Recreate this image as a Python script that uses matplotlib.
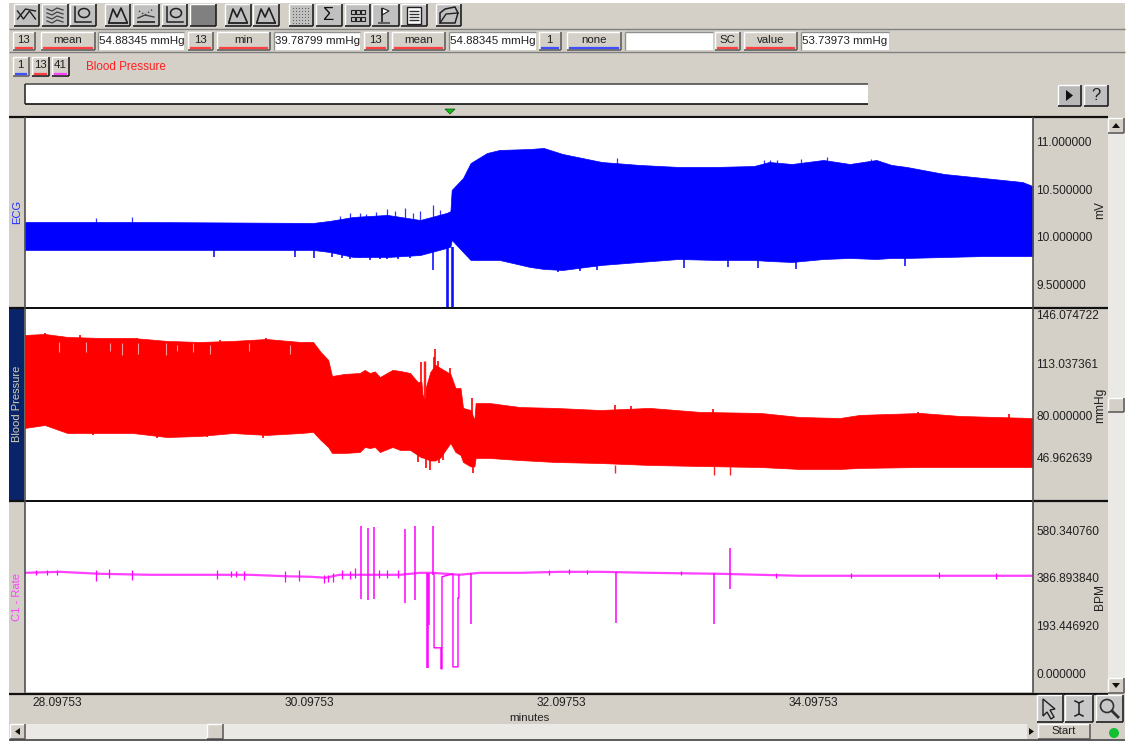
import matplotlib
matplotlib.use("Agg")
import matplotlib.pyplot as plt
from matplotlib.patches import Rectangle, Polygon, Circle, Ellipse
from matplotlib.transforms import ScaledTranslation

plt.rcParams['font.family'] = ['Liberation Sans', 'DejaVu Sans']

# ECG envelope
ecg_t = [27.84, 28.76, 30.13, 30.26, 30.45, 30.72, 30.98, 31.19, 31.22, 31.23, 31.32, 31.38, 31.51, 31.61,
         31.85, 31.96, 32.11, 32.42, 32.72, 33.03, 33.33, 33.63, 33.75, 33.93, 34.18, 34.39, 34.60, 34.72,
         34.84, 35.14, 35.45, 35.76, 35.84]
ecg_hi = [10.157, 10.157, 10.147, 10.168, 10.21, 10.231, 10.178, 10.252, 10.27, 10.493, 10.618, 10.775, 10.88, 10.912,
          10.922, 10.933, 10.87, 10.786, 10.755, 10.734, 10.734, 10.744, 10.786, 10.765, 10.807, 10.765, 10.807, 10.755,
          10.734, 10.66, 10.618, 10.576, 10.534]
ecg_lo = [9.864, 9.864, 9.864, 9.843, 9.79, 9.79, 9.811, 9.885, 9.9, 9.969, 9.843, 9.759, 9.759, 9.759,
          9.686, 9.665, 9.654, 9.707, 9.738, 9.769, 9.759, 9.759, 9.748, 9.738, 9.769, 9.78, 9.769, 9.78,
          9.78, 9.79, 9.8, 9.8, 9.8]
ecg_up_t = [28.41, 28.69, 30.42, 30.55, 30.72, 30.86, 30.98, 31.08, 31.14,
            30.34, 30.50, 30.63, 30.78, 30.92, 32.54, 33.71, 33.76, 33.81, 34.00, 34.21, 34.56]
ecg_up_v = [10.2, 10.21, 10.25, 10.24, 10.29, 10.3, 10.27, 10.33, 10.28,
            10.22, 10.25, 10.26, 10.27, 10.25, 10.828, 10.807, 10.807, 10.807, 10.817, 10.838, 10.817]
ecg_dn_t = [29.34, 29.99, 30.14, 30.36, 30.72, 30.80, 30.90, 31.08, 31.19, 31.20, 31.23, 31.24,
            30.28, 30.42, 30.50, 30.58, 30.66, 32.07, 32.25, 32.38, 33.07, 33.42, 33.66, 33.96, 34.83]
ecg_dn_v = [9.79, 9.79, 9.78, 9.78, 9.77, 9.77, 9.78, 9.65, 9.27, 9.27, 9.27, 9.27,
            9.79, 9.77, 9.78, 9.76, 9.77, 9.633, 9.644, 9.654, 9.675, 9.686, 9.675, 9.665, 9.696]

# blood pressure envelope
bp_t = [27.84, 28.00, 28.18, 28.44, 28.70, 28.97, 29.23, 29.49, 29.76, 30.03, 30.13, 30.19, 30.25, 30.28,
        30.38, 30.50, 30.54, 30.58, 30.62, 30.66, 30.76, 30.82, 30.90, 30.96, 30.99, 31.00, 31.06, 31.10,
        31.14, 31.22, 31.26, 31.30, 31.32, 31.38, 31.41, 31.42, 31.53, 31.77, 32.05, 32.41, 32.80, 33.20,
        33.68, 33.99, 34.31, 34.47, 34.95, 35.26, 35.84]
bp_hi = [132.5, 133.2, 131.2, 130.5, 130.5, 128.5, 127.8, 128.5, 129.8, 127.8, 127.8, 121.1, 115.7, 104.9,
         106.3, 106.9, 109.0, 106.9, 108.0, 104.2, 109.0, 108.3, 106.9, 100.9, 100.9, 90.1, 107.6, 112.4,
         110.3, 106.3, 96.8, 96.8, 83.4, 82.0, 75.3, 86.7, 86.7, 84.0, 83.4, 82.0, 83.4, 80.7,
         80.0, 77.3, 76.6, 78.7, 80.0, 78.0, 76.6]
bp_lo = [69.9, 71.9, 66.5, 66.5, 66.5, 63.8, 64.5, 66.5, 65.2, 66.5, 67.2, 61.8, 57.1, 53.1,
         53.1, 53.7, 57.1, 56.4, 57.1, 53.7, 57.1, 55.1, 55.1, 51.7, 50.0, 50.0, 48.0, 48.0,
         50.0, 59.8, 53.7, 51.7, 47.0, 44.0, 44.0, 49.7, 49.7, 48.3, 47.0, 46.3, 45.0, 44.3,
         43.6, 42.3, 42.3, 43.0, 43.6, 43.6, 43.6]
bp_notch_t = [28.11, 28.33, 28.61, 28.74, 28.96, 29.18, 29.31, 29.95, 28.52, 29.05, 29.62]
bp_notch_hi = [128, 128, 127, 127, 127, 127, 126, 126, 127, 126, 127]
bp_notch_lo = [121, 121, 119, 120, 119, 121, 120, 120, 122, 122, 122]
bp_dip_t = [32.53, 33.31, 33.44, 31.01, 31.02]
bp_dip_hi = [45, 44, 44, 115, 115]
bp_dip_lo = [39.6, 38.2, 38.2, 90, 90]
bp_top_t = [28.00, 28.28, 28.73, 29.39, 29.76, 31.10, 30.99, 31.22, 31.39, 32.53, 32.65, 33.30, 34.93, 35.65, 31.09, 31.12]
bp_top_v = [133.9, 132.5, 130.5, 129.2, 130.5, 123.1, 114.3, 110.3, 90.0, 85.4, 84.7, 82.7, 80.7, 79.3, 118.0, 115.0]
bp_bot_t = [28.38, 28.89, 29.29, 29.73, 31.06, 31.13, 31.40, 30.96, 31.03, 31.16]
bp_bot_v = [65.2, 63.2, 63.8, 63.2, 41.6, 46.3, 39.6, 47.0, 43.0, 48.0]

# rate trace
rate_t = [27.84, 28.12, 28.44, 28.84, 29.23, 29.63, 29.92, 30.11, 30.23, 30.34, 30.50, 30.82, 30.98, 31.08,
          31.29, 31.45, 31.77, 32.09, 32.41, 32.80, 33.36, 33.99, 34.79, 35.84]
rate_v = [407, 411, 403, 399, 399, 399, 393, 391, 387, 399, 399, 399, 407, 407,
          399, 407, 407, 411, 411, 407, 403, 395, 395, 395]
spike_t = [30.510, 30.566, 30.614, 30.859, 30.939, 31.050, 31.383, 32.534, 33.312, 33.439, 31.082, 31.034, 31.042]
spike_hi = [598, 590, 594, 586, 598, 403, 407, 411, 407, 508, 598, 407, 407]
spike_lo = [302, 298, 302, 285, 298, 196, 200, 204, 200, 342, 399, 22, 22]
drop_t = [31.090, 31.090, 31.145, 31.145, 31.153, 31.153, 31.240, 31.240, 31.280, 31.280, 31.287, 31.287]
drop_v = [399, 103, 103, 18, 18, 391, 403, 26, 26, 306, 306, 399]
jitter_t = [28.41, 28.51, 28.69, 29.37, 29.58, 29.91, 30.02, 30.22, 30.36, 30.42, 27.93, 28.02, 28.10, 29.48, 29.52,
            30.29, 30.25, 30.46, 30.65, 30.72, 30.80, 32.00, 32.16, 32.30, 33.05, 33.80, 34.40, 35.10, 35.55]
jitter_hi = [420, 424, 420, 420, 415, 416, 420, 400, 420, 415, 420, 418, 420, 416, 416,
             408, 400, 425, 418, 420, 418, 420, 422, 420, 415, 405, 405, 410, 405]
jitter_lo = [375, 385, 378, 380, 378, 370, 372, 365, 380, 380, 400, 400, 398, 392, 392,
             370, 368, 385, 385, 384, 385, 400, 402, 402, 398, 385, 385, 385, 380]

x_ticks = [28.09753, 30.09753, 32.09753, 34.09753]
ecg_ticks = [11.0, 10.5, 10.0, 9.5]
bp_ticks = [146.074722, 113.037361, 80.0, 46.962639]
rate_ticks = [580.34076, 386.89384, 193.44692, 0.0]

W, H = 1128, 742
BG = '#d4d0c8'
RED = '#ff4040'
BLUE = '#4050ff'
TXT = 8.6
FIELD_TXT = 8.25

fig = plt.figure(figsize=(W / 100, H / 100), dpi=100, facecolor='white')
ui = fig.add_axes([0, 0, 1, 1], zorder=0)
ui.set_xlim(0, W)
ui.set_ylim(H, 0)
ui.axis('off')


def box(x0, y0, x1, y1, fc=BG, **kw):
    ui.add_patch(Rectangle((x0, y0), x1 - x0, y1 - y0, fc=fc, ec='none', **kw))


def hline(x0, x1, y, color='#808080', lw=1.0):
    ui.plot([x0, x1], [y, y], color=color, lw=lw, solid_capstyle='butt')


def vline(x, y0, y1, color='#808080', lw=1.0):
    ui.plot([x, x], [y0, y1], color=color, lw=lw, solid_capstyle='butt')


def button(x0, y0, x1, y1, label=None, under=None, fc=BG, size=FIELD_TXT, dark='#606060'):
    box(x0, y0, x1, y1, fc=fc)
    hline(x0, x1, y0, 'white')
    vline(x0, y0, y1, 'white')
    hline(x0, x1, y1, dark, 1.2)
    vline(x1, y0, y1, dark, 1.2)
    if label:
        ui.text((x0 + x1) / 2, (y0 + y1) / 2 - (1 if under else 0), label, ha='center', va='center',
                fontsize=size, color='#202020')
    if under:
        hline(x0 + 2, x1 - 2, y1 - 2.5, under, 1.6)


def field(x0, y0, x1, y1, label=''):
    box(x0, y0, x1, y1, fc='white')
    hline(x0, x1, y0, '#909090')
    vline(x0, y0, y1, '#909090')
    if label:
        ui.text(x0 + 1, (y0 + y1) / 2, label, ha='left', va='center', fontsize=FIELD_TXT, color='#202020')


def icon(i, a, b):
    ink = '#202020'
    if i == 0:
        ui.plot([a + 4, a + 10, a + 16, a + 22], [11, 19, 11, 19], color=ink, lw=1)
        ui.plot([a + 4, a + 12, a + 22], [19, 9, 11], color=ink, lw=1)
    elif i == 1:
        for py in (9, 13, 17, 21):
            ui.plot([a + 5, a + 10, a + 15, a + 21], [py, py + 2, py - 1, py + 1], color='#404040', lw=0.9)
    elif i in (2, 5):
        ui.plot([a + 5, a + 5, a + 21], [7, 22, 22], color=ink, lw=1.1)
        ui.add_patch(Ellipse((a + 14, 13), 11, 9, fc='none', ec=ink, lw=1.1))
    elif i in (3, 7, 8):
        ui.plot([a + 4, a + 8, a + 12, a + 16, a + 22], [22, 9, 17, 8, 22], color=ink, lw=1.2)
        hline(a + 3, a + 23, 23, ink, 1.3)
    elif i == 4:
        ui.plot([a + 6, a + 12, a + 20], [11, 15, 9], color='#404040', lw=1, ls=':')
        ui.plot([a + 5, a + 12, a + 21], [18, 15, 17], color='#404040', lw=1)
        hline(a + 4, a + 22, 22, ink, 1.2)
    elif i == 9:
        for px in range(4, 22, 3):
            for py in range(8, 24, 3):
                box(a + px, py, a + px + 1, py + 1, fc='#606060')
    elif i == 10:
        ui.text((a + b) / 2, 15, 'Σ', ha='center', va='center', fontsize=13, color='#101010')
    elif i == 11:
        for px in (a + 6, a + 11, a + 16):
            for py in (10, 17):
                ui.add_patch(Rectangle((px, py), 3.5, 3.5, fc='none', ec=ink, lw=0.8))
    elif i == 12:
        vline(a + 10, 8, 23, ink, 1.2)
        ui.add_patch(Polygon([(a + 10, 8), (a + 17, 11), (a + 10, 15)], fc='white', ec=ink, lw=0.8))
        hline(a + 6, a + 18, 23, '#606060', 1.5)
    elif i == 13:
        ui.add_patch(Rectangle((a + 6, 7), 14, 17, fc='white', ec=ink, lw=1))
        for py in (11, 14, 17, 20):
            hline(a + 8, a + 18, py, '#303030', 1)
    elif i == 14:
        ui.add_patch(Polygon([(a + 4, 23), (a + 4, 13), (a + 9, 9), (a + 19, 7), (a + 22, 13), (a + 19, 23)],
                             fc='#c0c0c0', ec=ink, lw=1.1))
        ui.plot([a + 4, a + 10, a + 22], [23, 14, 13], color=ink, lw=1)


# window background
box(9, 3, 1125, 739)
hline(9, 1125, 28.5, '#808080')
hline(9, 1125, 52, '#808080')

# toolbar
tools = [(13.5, 38.5), (42, 68), (70, 96), (105, 130), (133, 159), (162, 187), (190, 216), (225, 251),
         (253, 279), (289, 313), (316, 342), (345, 370), (372, 399), (401, 427), (436, 461)]
for i, (a, b) in enumerate(tools):
    button(a, 4, b, 26, fc='#808080' if i == 6 else '#c0c0c0', dark='#202020')
    if i != 6:
        icon(i, a, b)

# readout row
button(12.5, 32, 35, 50, '13', RED)
button(41, 32, 95, 50, 'mean', RED)
field(98, 32, 184, 50, '54.88345 mmHg')
button(188, 32, 212.5, 50, '13', RED)
button(217, 32, 270, 50, 'min', RED)
field(274, 32, 360, 50, '39.78799 mmHg')
button(363.5, 32, 387.5, 50, '13', RED)
button(392, 32, 445, 50, 'mean', RED)
field(449, 32, 536, 50, '54.88345 mmHg')
button(538.5, 32, 561, 50, '1', BLUE)
button(567, 32, 621, 50, 'none', BLUE)
field(625, 32, 712.5, 50)
button(715, 32, 739.5, 50, 'SC', RED)
button(743.5, 32, 797, 50, 'value', RED)
field(801, 32, 889, 50, '53.73973 mmHg')

# channel row
button(12.5, 57, 29, 76, '1', BLUE)
button(32, 57, 49, 76, '13', RED, dark='#202020')
button(52, 57, 68.5, 76, '41', '#ff40ff', dark='#202020')
ui.text(86, 67, 'Blood Pressure', ha='left', va='center', fontsize=8.4, color='#ff2020')

box(25, 84, 868, 104, fc='white')
hline(25, 868, 84, '#505050', 1.2)
hline(25, 868, 104, '#101010', 1.2)
vline(25, 84, 104, '#303030', 1.2)
button(1058, 85, 1081, 106, dark='#202020', fc='#b8b8b8')
ui.add_patch(Polygon([(1066, 90), (1073, 95.5), (1066, 101)], fc='#101010', ec='none'))
button(1084, 85, 1108, 106, '?', size=12, dark='#202020', fc='#c0c0c0')
ui.add_patch(Polygon([(445, 109), (455, 109), (450, 114)], fc='#10c010', ec='#105010', lw=0.5))

# side labels
box(9, 309, 24, 500, fc='#0a246a')
ui.text(17, 212, 'ECG', rotation=90, ha='center', va='center', fontsize=8, color='#2030ff')
ui.text(17, 404, 'Blood Pressure', rotation=90, ha='center', va='center', fontsize=8, color='#d4d0b0')
ui.text(17, 597, 'C1 - Rate', rotation=90, ha='center', va='center', fontsize=8, color='#ff40ff')

# right scrollbar
box(1108, 118, 1125, 693, fc='#ebe9e5')
button(1108, 118, 1124, 133)
ui.add_patch(Polygon([(1112, 128), (1120, 128), (1116, 123)], fc='#101010', ec='none'))
button(1108, 678, 1124, 693)
ui.add_patch(Polygon([(1112, 683), (1120, 683), (1116, 688)], fc='#101010', ec='none'))
button(1108, 398, 1124, 412)

for y in (117, 308, 500.5, 693.5):
    hline(9, 1108, y, '#101010', 1.6)

# bottom bars
box(25, 724, 1027, 739, fc='#ebe9e5')
button(10, 724, 25, 739)
ui.add_patch(Polygon([(20, 728), (20, 735), (15, 731.5)], fc='#101010', ec='none'))
button(207, 724, 223, 739)
ui.add_patch(Polygon([(1029, 728), (1029, 735), (1034, 731.5)], fc='#101010', ec='none'))
button(1038, 724, 1090, 739, 'Start')
ui.add_patch(Circle((1114, 733), 5, fc='#10c030', ec='none'))
hline(9, 1125, 739.5, '#404040', 1.2)

for a, b in [(1037, 1063), (1065, 1093), (1096, 1123)]:
    button(a, 695, b, 722, fc='#c8c8c8', dark='#202020')
ui.add_patch(Polygon([(1043, 699), (1043, 716), (1047, 712), (1051, 719), (1054, 717), (1050, 710), (1055, 709)],
                     fc='#c8c8c8', ec='#202020', lw=1))
ui.plot([1075, 1079, 1083], [701, 703, 701], color='#202020', lw=1.1)
ui.plot([1075, 1079, 1083], [716, 714, 716], color='#202020', lw=1.1)
vline(1079, 703, 714, '#202020', 1.1)
ui.add_patch(Circle((1107, 706), 6.5, fc='none', ec='#303030', lw=1.2))
ui.plot([1112, 1118], [711, 717], color='#303030', lw=2)


def panel(y0, y1, ylim, ticks, tick_labels, unit, unit_y):
    ax = fig.add_axes([25 / W, 1 - y1 / H, 1008 / W, (y1 - y0) / H], zorder=2)
    ax.set_xlim(27.8436, 35.8436)
    ax.set_ylim(*ylim)
    ax.yaxis.tick_right()
    ax.set_yticks(ticks)
    ax.set_yticklabels(tick_labels, fontsize=TXT, color='#202020')
    ax.tick_params(axis='y', length=0, pad=2.5)
    ax.set_xticks([])
    for side in ('top', 'bottom'):
        ax.spines[side].set_visible(False)
    ax.spines['left'].set_color('#505050')
    ax.spines['right'].set_color('#505050')
    ax.spines['left'].set_linewidth(1.2)
    ax.spines['right'].set_linewidth(1.2)
    ui.text(1100, unit_y, unit, rotation=90, ha='center', va='center', fontsize=TXT, color='#202020')
    return ax


ax1 = panel(118, 307, (9.266, 11.247), ecg_ticks, ['11.000000', '10.500000', '10.000000', '9.500000'], 'mV', 210)
ax1.fill_between(ecg_t, ecg_lo, ecg_hi, color='#0000ff', lw=0.5)
ax1.vlines(ecg_up_t, 10.1, ecg_up_v, color='#0000ff', lw=0.9, alpha=0.8)
ax1.vlines(ecg_dn_t, ecg_dn_v, 9.9, color='#0000ff', lw=1.1)

ax2 = panel(309, 500, (21.4, 150.0), bp_ticks, ['146.074722', '113.037361', '80.000000', '46.962639'], 'mmHg', 405)
ax2.fill_between(bp_t, bp_lo, bp_hi, color='#ff0000', lw=0.5)
ax2.vlines(bp_top_t, 75, bp_top_v, color='#ff0000', lw=1.2)
ax2.vlines(bp_bot_t, bp_bot_v, 73, color='#ff0000', lw=1.2)
ax2.vlines(bp_notch_t, bp_notch_lo, bp_notch_hi, color='white', lw=0.8, alpha=0.6)
ax2.vlines(bp_dip_t, bp_dip_lo, bp_dip_hi, color='#ff2020', lw=1.0)
# the source draws these two labels a few pixels away from a straight scale
bp_labels = ax2.get_yticklabels()
bp_labels[2].set_transform(bp_labels[2].get_transform() + ScaledTranslation(0, -2 / 72, fig.dpi_scale_trans))
bp_labels[3].set_transform(bp_labels[3].get_transform() + ScaledTranslation(0, 3 / 72, fig.dpi_scale_trans))

ax3 = panel(502, 692, (-76, 694), rate_ticks, ['580.340760', '386.893840', '193.446920', '0.000000'], 'BPM', 597)
ax3.plot(rate_t, rate_v, color='#ff00ff', lw=1.6, alpha=0.75)
ax3.vlines(jitter_t, jitter_lo, jitter_hi, color='#ff00ff', lw=0.9)
ax3.vlines(spike_t, spike_lo, spike_hi, color='#ff00ff', lw=1.1)
ax3.plot(drop_t, drop_v, color='#ff00ff', lw=1.0)

# time axis sits under the last panel
ax4 = fig.add_axes([25 / W, 1 - 722 / H, 1008 / W, 28 / H], zorder=1)
ax4.patch.set_alpha(0)
ax4.set_xlim(27.8436, 35.8436)
ax4.set_yticks([])
for s in ax4.spines.values():
    s.set_visible(False)
ax4.xaxis.tick_top()
ax4.set_xticks(x_ticks)
ax4.set_xticklabels(['%.5f' % t for t in x_ticks], fontsize=TXT, color='#202020')
ax4.tick_params(axis='x', length=0, pad=-11)
ax4.set_xlabel('minutes', fontsize=FIELD_TXT, color='#202020')
ax4.xaxis.set_label_coords(504 / 1008, 0.32)

fig.savefig('out.png', dpi=100)
